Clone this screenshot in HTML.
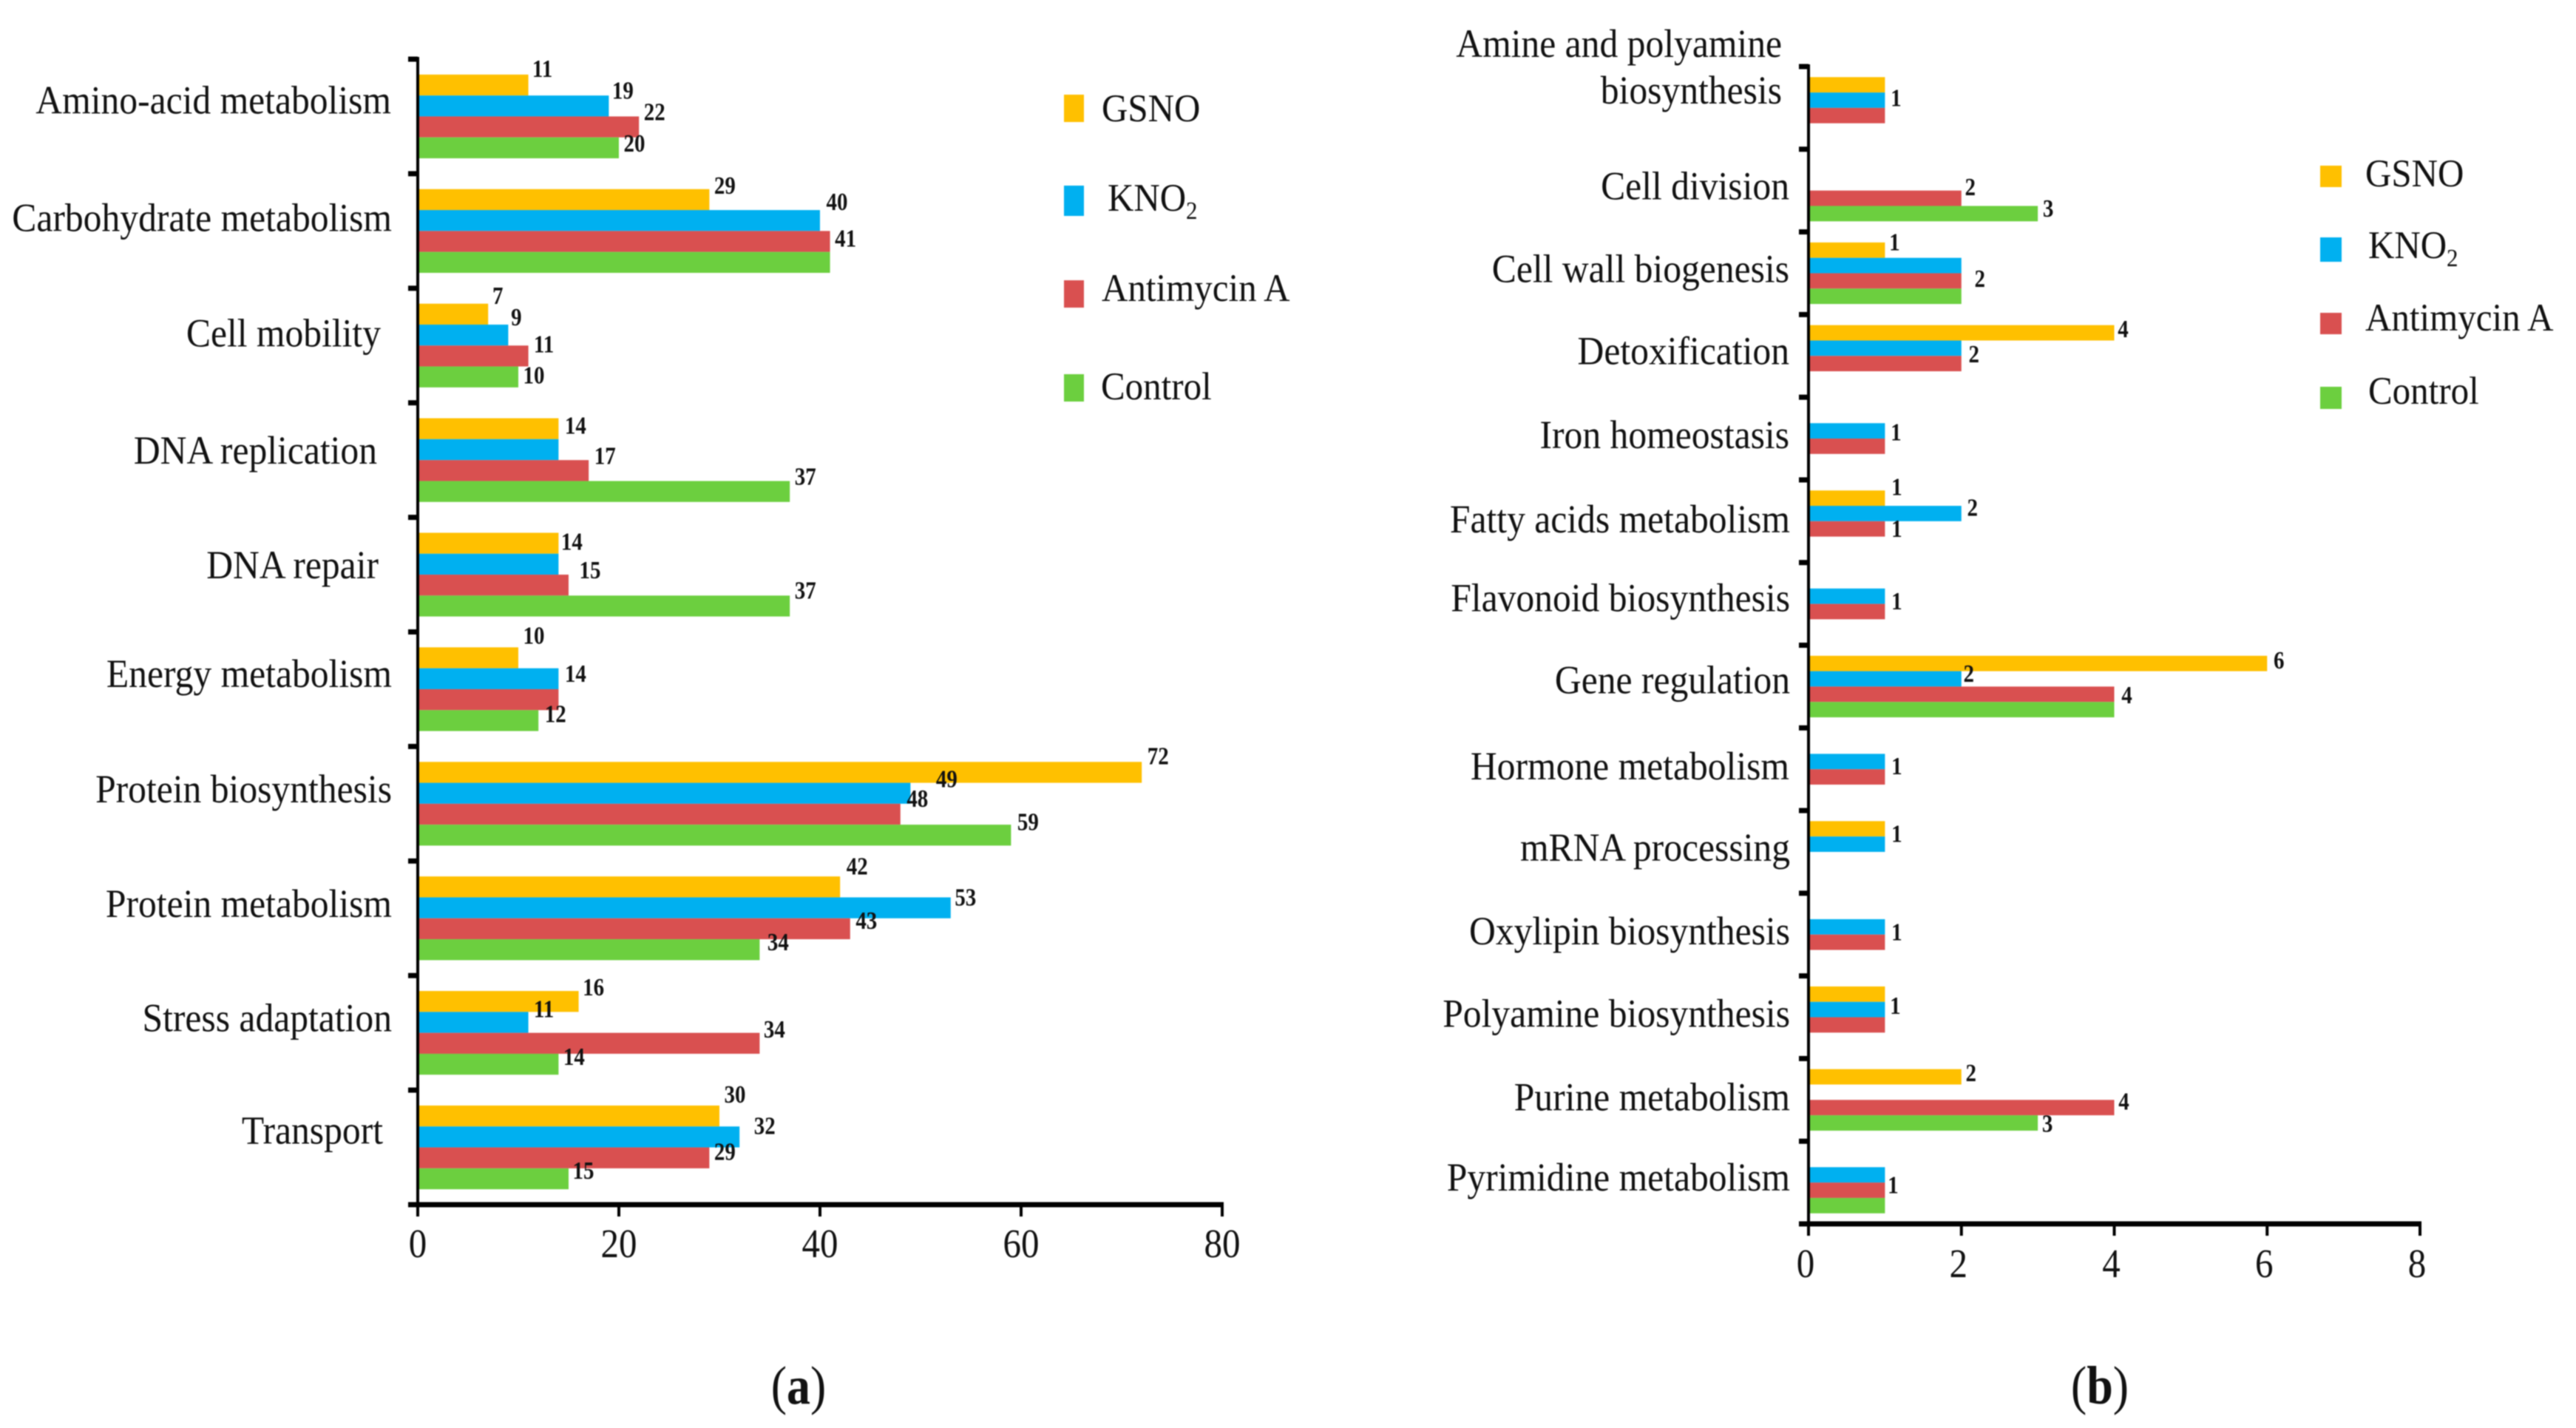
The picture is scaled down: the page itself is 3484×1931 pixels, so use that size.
<!DOCTYPE html>
<html lang="en">
<head>
<meta charset="utf-8">
<title>Functional categories by treatment</title>
<style>
html,body{margin:0;padding:0;background:#fff;}
svg{display:block;filter:blur(0.9px);}
text{font-family:"Liberation Serif",serif;fill:#111;}
</style>
</head>
<body>
<svg id="figure" xmlns="http://www.w3.org/2000/svg" width="3484" height="1931" viewBox="0 0 3484 1931">
  <rect width="3484" height="1931" fill="#fff"/>
  <g id="panel-a"></g>
  <g id="panel-b"></g>
</svg>
<script>
const seriesNames = ['GSNO', 'KNO2', 'Antimycin A', 'Control'];

const categoriesA = ['Amino-acid metabolism', 'Carbohydrate metabolism', 'Cell mobility', 'DNA replication', 'DNA repair', 'Energy metabolism', 'Protein biosynthesis', 'Protein metabolism', 'Stress adaptation', 'Transport'];
const gsnoA = [11, 29, 7, 14, 14, 10, 72, 42, 16, 30];
const kno2A = [19, 40, 9, 14, 14, 14, 49, 53, 11, 32];
const antimycinA = [22, 41, 11, 17, 15, 14, 48, 43, 34, 29];
const controlA = [20, 41, 10, 37, 37, 12, 59, 34, 14, 15];
const ticksA = [0, 20, 40, 60, 80];

const categoriesB = ['Amine and polyamine\nbiosynthesis', 'Cell division', 'Cell wall biogenesis', 'Detoxification', 'Iron homeostasis', 'Fatty acids metabolism', 'Flavonoid biosynthesis', 'Gene regulation', 'Hormone metabolism', 'mRNA processing', 'Oxylipin biosynthesis', 'Polyamine biosynthesis', 'Purine metabolism', 'Pyrimidine metabolism'];
const gsnoB = [1, 0, 1, 4, 0, 1, 0, 6, 0, 1, 0, 1, 2, 0];
const kno2B = [1, 0, 2, 2, 1, 2, 1, 2, 1, 1, 1, 1, 0, 1];
const antimycinB = [1, 2, 2, 2, 1, 1, 1, 4, 1, 0, 1, 1, 4, 1];
const controlB = [0, 3, 2, 0, 0, 0, 0, 4, 0, 0, 0, 0, 3, 1];
const ticksB = [0, 2, 4, 6, 8];

/* Layout only: which bars carry a printed value, and the nudge of that label from the bar end. */
const placementA = [
  [0,0,20,-20],[0,1,20,-19],[0,2,22,-18],[0,3,22,-4],
  [1,0,22,-17],[1,1,24,-23],[1,2,22,-2],
  [2,0,14,-23],[2,1,12,-22],[2,2,22,-14],[2,3,22,0],
  [3,0,24,-2],[3,2,23,-18],[3,3,22,-18],
  [4,0,19,0],[4,2,30,-18],[4,3,22,-19],
  [5,0,22,-28],[5,1,24,-5],[5,3,24,-7],
  [6,0,23,-20],[6,1,50,-17],[6,2,24,-19],[6,3,24,-16],
  [7,0,24,-26],[7,1,21,-12],[7,2,23,-9],[7,3,26,-8],
  [8,0,21,-17],[8,1,22,-16],[8,2,21,-17],[8,3,22,-8],
  [9,0,22,-27],[9,1,35,-13],[9,2,22,-6],[9,3,21,-9]
];
const placementB = [
  [0,1,16,-1],[1,2,13,-13],[1,3,15,-5],[2,0,14,-9],[2,2,26,-1],
  [3,0,13,-3],[3,1,18,10],[4,1,16,4],[5,0,17,-13],[5,1,16,-6],[5,2,17,2],
  [6,1,17,9],[7,0,17,-2],[7,1,11,-5],[7,2,18,3],[8,1,17,8],[9,1,17,-12],
  [10,1,17,9],[11,1,15,-3],[12,0,14,-3],[12,2,14,-6],[12,3,14,3],[13,2,12,-5]
];
const labelRightA = [529, 530, 515, 510, 512, 530, 530, 530, 530, 518];
const labelShiftA = [-4, 0, 1, 5, 5, -3, -2, -2, -2, -5];
const labelRightB = [2410, 2420, 2420, 2420, 2420, 2421, 2421, 2421, 2420, 2421, 2421, 2421, 2421, 2421];
const labelShiftB = [-6, 12, 12, 11, 13, 15, 10, 9, 14, 12, 13, 13, 14, 11];

const seriesColors = ['#FFC000', '#00B0F0', '#D95050', '#6CCF3F'];
const NS = 'http://www.w3.org/2000/svg';

function mk(parent, tag, attrs, txt) {
  const el = document.createElementNS(NS, tag);
  for (const k in attrs) el.setAttribute(k, attrs[k]);
  if (txt !== undefined) el.textContent = txt;
  parent.appendChild(el);
  return el;
}
function stretched(parent, x, y, size, anchor, sy, txt, weight) {
  return mk(parent, 'text', {
    transform: 'translate(' + x + ',' + y + ') scale(1,' + sy + ')',
    'font-size': size, 'text-anchor': anchor, 'font-weight': weight || 'normal'
  }, txt);
}

function drawPanel(rootId, cats, series, ticks, maxTick, geo, placement, rights, shifts) {
  const root = document.getElementById(rootId);
  const xOf = v => geo.x0 + (v / maxTick) * (geo.x1 - geo.x0);
  const midOf = i => geo.top + (geo.bottom - geo.top) * (i + 0.5) / cats.length;
  const barTop = (i, s) => midOf(i) - 2 * geo.barH + s * geo.barH;

  cats.forEach((c, i) => {
    series.forEach((vals, s) => {
      if (!vals[i]) return;
      const bar = mk(root, 'rect', {
        x: geo.x0, y: barTop(i, s), width: xOf(vals[i]) - geo.x0, height: geo.barH, fill: seriesColors[s]
      });
      
      
    });
    const lines = c.split('\n');
    lines.forEach((ln, k) => {
      const y = midOf(i) + shifts[i] - (lines.length - 1 - k) * 63;
      const t = stretched(root, rights[i], y, 49.6, 'end', 1.09, ln);
      
      
    });
  });

  const yAxis = mk(root, 'rect', { x: geo.x0 - 2, y: geo.top - 3, width: 4, height: geo.bottom - geo.top + 6, fill: '#000' });
  
  
  for (let i = 0; i <= cats.length; i++) {
    const ty = geo.top + (geo.bottom - geo.top) * i / cats.length;
    const tk = mk(root, 'rect', { x: geo.x0 - 13, y: ty - 3.5, width: 13, height: 7, fill: '#000' });
    
    
  }
  const xAxis = mk(root, 'rect', { x: geo.x0 - 13, y: geo.bottom - 3.5, width: geo.x1 - geo.x0 + 15, height: 7, fill: '#000' });
  
  
  ticks.forEach(v => {
    const tk = mk(root, 'rect', { x: xOf(v) - 2, y: geo.bottom, width: 4, height: 16, fill: '#000' });
    
    
    const lb = stretched(root, xOf(v) + geo.tickDx, geo.tickBase, 49, 'middle', 1.12, String(v));
    
    
  });

  placement.forEach(p => {
    const i = p[0], s = p[1];
    const v = series[s][i];
    const lb = stretched(root, xOf(v) + p[2] - 1, barTop(i, s) + geo.barH / 2 + p[3] + 9, 29, 'middle', 1.16, String(v), 'bold');
    
    
  });
}

function drawLegend(rootId, sq, textRows) {
  const root = document.getElementById(rootId);
  seriesNames.forEach((n, s) => {
    const row = textRows[s];
    const sw = mk(root, 'rect', { x: sq.x, y: row.sy, width: sq.w, height: row.sh, fill: seriesColors[s] });
    
    
    const t = stretched(root, row.tx, row.base, 49, 'start', 1.09, n === 'KNO2' ? 'KNO' : n);
    
    
    if (n === 'KNO2') {
      const sub = stretched(root, row.tx + 106, row.base + 11, 31, 'start', 1.09, '2');
      
      
    }
  });
}

function caption(rootId, x, y, letter) {
  const root = document.getElementById(rootId);
  const t = mk(root, 'text', { transform: 'translate(' + x + ',' + y + ') scale(1,1.15)', 'font-size': 64, 'text-anchor': 'middle' });
  
  
  mk(t, 'tspan', {}, '(');
  mk(t, 'tspan', { 'font-weight': 'bold' }, letter);
  mk(t, 'tspan', {}, ')');
}

drawPanel('panel-a', categoriesA, [gsnoA, kno2A, antimycinA, controlA], ticksA, 80,
  { x0: 565, x1: 1653, top: 80, bottom: 1629, barH: 28.3, tickDx: 0, tickBase: 1700 },
  placementA, labelRightA, labelShiftA);
drawPanel('panel-b', categoriesB, [gsnoB, kno2B, antimycinB, controlB], ticksB, 8,
  { x0: 2446, x1: 3273, top: 90, bottom: 1655, barH: 20.8, tickDx: -4, tickBase: 1727 },
  placementB, labelRightB, labelShiftB);

drawLegend('panel-a', { x: 1439, w: 27 }, [
  { sy: 128, sh: 37, tx: 1490, base: 164 },
  { sy: 251, sh: 41, tx: 1498, base: 285 },
  { sy: 379, sh: 37, tx: 1490, base: 407 },
  { sy: 506, sh: 37, tx: 1489, base: 540 }
]);
drawLegend('panel-b', { x: 3138, w: 29 }, [
  { sy: 224, sh: 29, tx: 3199, base: 252 },
  { sy: 321, sh: 33, tx: 3203, base: 349 },
  { sy: 423, sh: 29, tx: 3199, base: 447 },
  { sy: 523, sh: 30, tx: 3203, base: 546 }
]);

caption('panel-a', 1080, 1898, 'a');
caption('panel-b', 2840, 1898, 'b');
</script>
</body>
</html>
